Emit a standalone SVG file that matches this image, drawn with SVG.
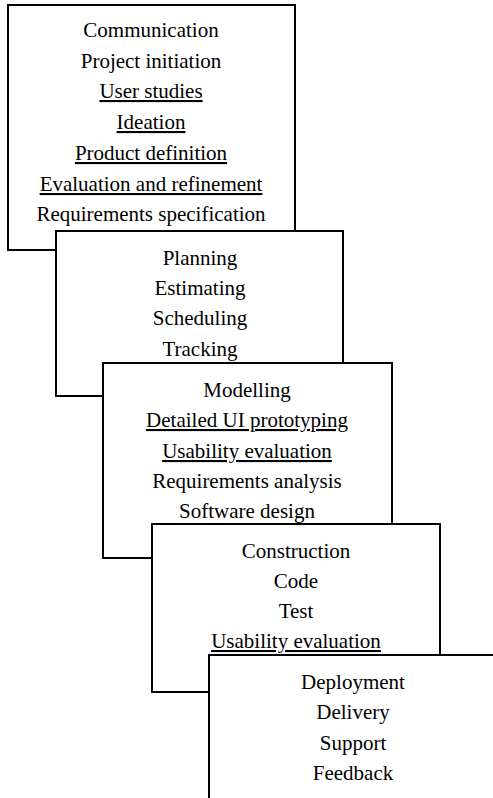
<svg xmlns="http://www.w3.org/2000/svg" width="493" height="798" viewBox="0 0 493 798">
<style>
.box{fill:#fff;stroke:#000;stroke-width:2}
</style>
<rect width="493" height="798" fill="#fff"/>
<g id="communication" text-anchor="middle" font-size="21">
<rect class="box" x="8" y="5" width="287" height="245"/>
<text x="151" y="37"><tspan font-family="Liberation Serif" style="font-family:'Liberation Serif'">Communication</tspan></text>
<text x="151" y="68"><tspan font-family="Liberation Serif" style="font-family:'Liberation Serif'">Project initiation</tspan></text>
<text x="151" y="98" text-decoration="underline"><tspan font-family="Liberation Serif" style="font-family:'Liberation Serif'">User studies</tspan></text>
<text x="151" y="129" text-decoration="underline"><tspan font-family="Liberation Serif" style="font-family:'Liberation Serif'">Ideation</tspan></text>
<text x="151" y="160" text-decoration="underline"><tspan font-family="Liberation Serif" style="font-family:'Liberation Serif'">Product definition</tspan></text>
<text x="151" y="191" text-decoration="underline"><tspan font-family="Liberation Serif" style="font-family:'Liberation Serif'">Evaluation and refinement</tspan></text>
<text x="151" y="221"><tspan font-family="Liberation Serif" style="font-family:'Liberation Serif'">Requirements specification</tspan></text>
</g>
<g id="planning" text-anchor="middle" font-size="21">
<rect class="box" x="56" y="231" width="287" height="165"/>
<text x="200" y="265"><tspan font-family="Liberation Serif" style="font-family:'Liberation Serif'">Planning</tspan></text>
<text x="200" y="295"><tspan font-family="Liberation Serif" style="font-family:'Liberation Serif'">Estimating</tspan></text>
<text x="200" y="325"><tspan font-family="Liberation Serif" style="font-family:'Liberation Serif'">Scheduling</tspan></text>
<text x="200" y="356"><tspan font-family="Liberation Serif" style="font-family:'Liberation Serif'">Tracking</tspan></text>
</g>
<g id="modelling" text-anchor="middle" font-size="21">
<rect class="box" x="103" y="363" width="289" height="195"/>
<text x="247" y="397"><tspan font-family="Liberation Serif" style="font-family:'Liberation Serif'">Modelling</tspan></text>
<text x="247" y="427" text-decoration="underline"><tspan font-family="Liberation Serif" style="font-family:'Liberation Serif'">Detailed UI prototyping</tspan></text>
<text x="247" y="458" text-decoration="underline"><tspan font-family="Liberation Serif" style="font-family:'Liberation Serif'">Usability evaluation</tspan></text>
<text x="247" y="488"><tspan font-family="Liberation Serif" style="font-family:'Liberation Serif'">Requirements analysis</tspan></text>
<text x="247" y="518"><tspan font-family="Liberation Serif" style="font-family:'Liberation Serif'">Software design</tspan></text>
</g>
<g id="construction" text-anchor="middle" font-size="21">
<rect class="box" x="152" y="524" width="288" height="168"/>
<text x="296" y="558"><tspan font-family="Liberation Serif" style="font-family:'Liberation Serif'">Construction</tspan></text>
<text x="296" y="588"><tspan font-family="Liberation Serif" style="font-family:'Liberation Serif'">Code</tspan></text>
<text x="296" y="618"><tspan font-family="Liberation Serif" style="font-family:'Liberation Serif'">Test</tspan></text>
<text x="296" y="648" text-decoration="underline"><tspan font-family="Liberation Serif" style="font-family:'Liberation Serif'">Usability evaluation</tspan></text>
</g>
<g id="deployment" text-anchor="middle" font-size="21">
<rect class="box" x="209" y="655" width="300" height="200"/>
<text x="353" y="689"><tspan font-family="Liberation Serif" style="font-family:'Liberation Serif'">Deployment</tspan></text>
<text x="353" y="719"><tspan font-family="Liberation Serif" style="font-family:'Liberation Serif'">Delivery</tspan></text>
<text x="353" y="750"><tspan font-family="Liberation Serif" style="font-family:'Liberation Serif'">Support</tspan></text>
<text x="353" y="780"><tspan font-family="Liberation Serif" style="font-family:'Liberation Serif'">Feedback</tspan></text>
</g>
<g id="connectors"></g>
</svg>
